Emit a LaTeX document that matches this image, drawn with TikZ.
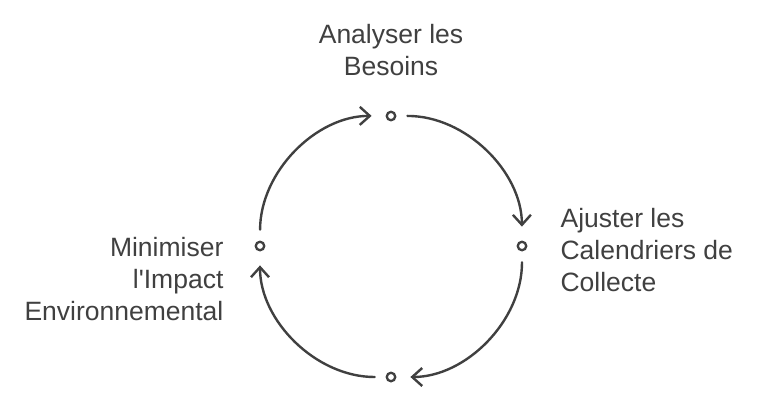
\documentclass[tikz,border=0pt]{standalone}
\usepackage{fontspec}
\setmainfont{Liberation Sans}
\usepackage{xcolor}
\usepackage{tikz}
\usetikzlibrary{positioning,arrows.meta}
\definecolor{cline}{RGB}{64,64,64}
\definecolor{ctext}{RGB}{64,64,64}

\begin{document}
\begin{tikzpicture}[x=1pt, y=1pt,
  dot/.style={circle, draw=cline, line width=2.3pt, minimum size=8.5pt, inner sep=0pt},
  lbl/.style={text=ctext, inner sep=0pt, font=\fontsize{26.5}{32}\selectfont},
  flow/.style={-{Straight Barb[length=10pt, width=18pt]}, line width=2.4pt, draw=cline,
               line cap=round, line join=round, shorten <=11pt, shorten >=14pt}]
\useasboundingbox (0,0) rectangle (768,-413);
% the four steps of the cycle
\node[dot] (top)    at (391,-116) {};
\node[dot] (right)  at (522,-246) {};
\node[dot] (bottom) at (391,-377) {};
\node[dot] (left)   at (260,-246) {};
% labels
\node[lbl, align=center, above=35pt of top] (ltop) {Analyser les\\Besoins};
\node[lbl, align=left, right=33pt of right, yshift=-4pt] (lright) {Ajuster les\\Calendriers de\\Collecte};
\node[lbl, align=right, left=31pt of left, anchor=north east, yshift=9pt] (lleft) {Minimiser\\l\textquotesingle Impact\\Environnemental};
% arcs
\draw[flow] (top)    to[bend left=45] (right);
\draw[flow] (right)  to[bend left=45] (bottom);
\draw[flow] (bottom) to[bend left=45] (left);
\draw[flow] (left)   to[bend left=45] (top);
\end{tikzpicture}
\end{document}
